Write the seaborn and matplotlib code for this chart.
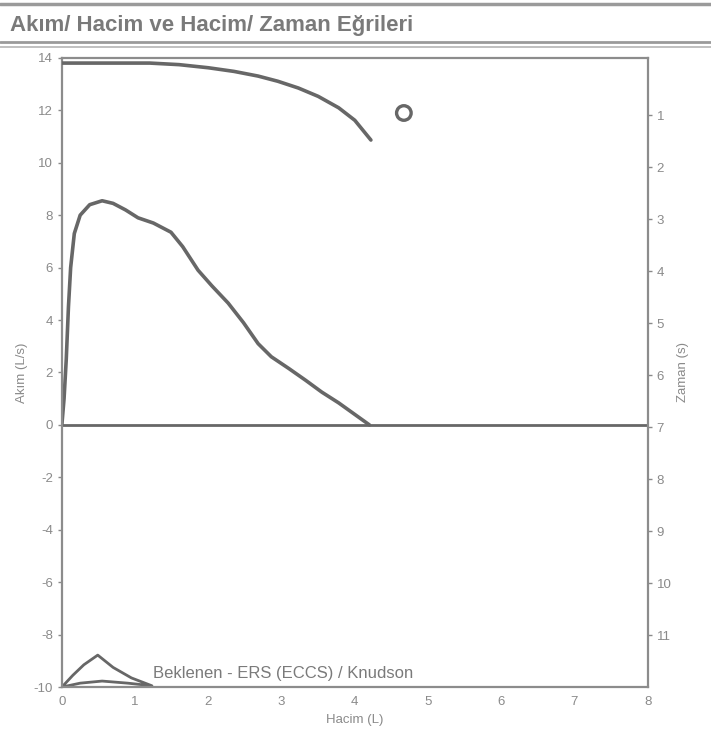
import numpy as np
import pandas as pd
import seaborn as sns
import matplotlib.pyplot as plt
from matplotlib.lines import Line2D

# Flow / volume curve (measured)
fv_volume = [0, 0.03, 0.06, 0.09, 0.12, 0.17, 0.25, 0.38, 0.55, 0.7, 0.87, 1.04, 1.25,
             1.49, 1.65, 1.86, 2.05, 2.27, 2.48, 2.68, 2.86, 3.1, 3.33, 3.55, 3.78,
             4.0, 4.2]
fv_flow = [0, 1.0, 2.5, 4.5, 6.0, 7.3, 8.0, 8.4, 8.55, 8.45, 8.2, 7.9, 7.7,
           7.35, 6.8, 5.9, 5.3, 4.65, 3.9, 3.1, 2.6, 2.15, 1.7, 1.25, 0.84,
           0.4, 0]

# Volume / time curve (right axis, time grows downwards)
vt_volume = [0, 1.2, 1.6, 2.0, 2.35, 2.68, 2.95, 3.23, 3.5, 3.78, 4.0, 4.22]
vt_time = [0, 0.0, 0.03, 0.09, 0.16, 0.25, 0.35, 0.48, 0.64, 0.86, 1.1, 1.48]

# Predicted curve, Beklenen - ERS (ECCS) / Knudson
pred_volume = [0, 0.15, 0.3, 0.49, 0.7, 0.95, 1.23, 0.9, 0.55, 0.25, 0]
pred_flow = [-10, -9.55, -9.15, -8.78, -9.25, -9.65, -9.95, -9.85, -9.77, -9.85, -10]

# Marker on the volume/time curve
mark_volume = [4.67]
mark_time = [0.96]

flow_ticks = list(range(-10, 15, 2))
time_ticks = list(range(1, 12))
vol_ticks = list(range(0, 9))

sns.set_style("white")
plt.rcParams['font.family'] = ['Liberation Sans', 'DejaVu Sans']
plt.rcParams['axes.unicode_minus'] = False

line_col = '#676767'
text_col = '#8a8a8a'

fig = plt.figure(figsize=(7.11, 7.42), dpi=100)
ax = fig.add_axes([0.087, 0.074, 0.824, 0.848])

sns.lineplot(x=fv_volume, y=fv_flow, sort=False, estimator=None, ax=ax,
             color=line_col, linewidth=2.6)
sns.lineplot(x=pred_volume, y=pred_flow, sort=False, estimator=None, ax=ax,
             color=line_col, linewidth=2.0)
ax.axhline(0, color=line_col, linewidth=2.0)

ax.set_xlim(0, 8)
ax.set_ylim(-10, 14)
ax.set_xticks(vol_ticks)
ax.set_yticks(flow_ticks)
ax.set_xlabel('Hacim (L)', color=text_col, fontsize=9.5)
ax.set_ylabel('Akım (L/s)', color=text_col, fontsize=9.5)
ax.tick_params(axis='both', colors=text_col, labelsize=9.5, direction='out',
               length=3, width=1)
for s in ax.spines.values():
    s.set_color('#8c8c8c')
    s.set_linewidth(1.6)

ax.text(1.25, -9.75, 'Beklenen - ERS (ECCS) / Knudson', color='#7a7a7a',
        fontsize=12, ha='left', va='bottom')

# Time axis on the right
ax2 = ax.twinx()
sns.lineplot(x=vt_volume, y=vt_time, sort=False, estimator=None, ax=ax2,
             color=line_col, linewidth=2.6)
sns.scatterplot(x=mark_volume, y=mark_time, ax=ax2, s=110, marker='o',
                facecolor='none', edgecolor=line_col, linewidth=2.4)
ax2.set_ylim(12.0, -0.1)
ax2.set_yticks(time_ticks)
ax2.set_ylabel('Zaman (s)', color=text_col, fontsize=9.5)
ax2.tick_params(axis='y', colors=text_col, labelsize=9.5, direction='out',
                length=3, width=1)
for s in ax2.spines.values():
    s.set_visible(False)

# Header band
fig.text(0.014, 0.966, 'Akım/ Hacim ve Hacim/ Zaman Eğrileri', color='#7a7a7a',
         fontsize=16, fontweight='bold', ha='left', va='center')
fig.add_artist(Line2D([0, 1], [0.994, 0.994], color='#9a9a9a', linewidth=2.5))
fig.add_artist(Line2D([0, 1], [0.944, 0.944], color='#9a9a9a', linewidth=2.0))
fig.add_artist(Line2D([0, 1], [0.937, 0.937], color='#b5b5b5', linewidth=1.2))

plt.savefig('out.png', dpi=100)
